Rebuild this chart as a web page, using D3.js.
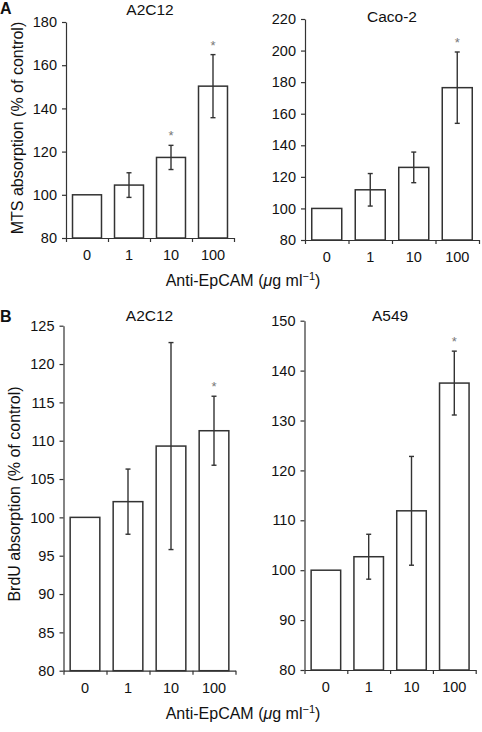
<!DOCTYPE html>
<html>
<head>
<meta charset="utf-8">
<script src="https://cdn.jsdelivr.net/npm/d3@7"></script>
<style>
  html, body { margin: 0; padding: 0; background: #fff; }
  svg { display: block; font-family: "Liberation Sans", Arial, Helvetica, sans-serif; }
</style>
</head>
<body>
<svg id="chart" width="482" height="732"></svg>
<script>
// ---- data ----
const doses = ["0", "1", "10", "100"];

const mtsA2C12 = [100, 104.5, 117.3, 150.3];
const mtsA2C12Err = [0, 5.7, 5.6, 14.6];
const mtsA2C12Sig = [false, false, true, true];
const mtsA2C12Ticks = [80, 100, 120, 140, 160, 180];

const mtsCaco2 = [100, 111.8, 126, 176.5];
const mtsCaco2Err = [0, 10.3, 9.7, 22.6];
const mtsCaco2Sig = [false, false, false, true];
const mtsCaco2Ticks = [80, 100, 120, 140, 160, 180, 200, 220];

const brduA2C12 = [100, 102.05, 109.3, 111.3];
const brduA2C12Err = [0, 4.25, 13.5, 4.5];
const brduA2C12Sig = [false, false, false, true];
const brduA2C12Ticks = [80, 85, 90, 95, 100, 105, 110, 115, 120, 125];

const brduA549 = [100, 102.7, 111.9, 137.5];
const brduA549Err = [0, 4.5, 10.9, 6.4];
const brduA549Sig = [false, false, false, true];
const brduA549Ticks = [80, 90, 100, 110, 120, 130, 140, 150];

const panelTitles = ["A2C12", "Caco-2", "A2C12", "A549"];
const yTitles = ["MTS absorption (% of control)", "BrdU absorption (% of control)"];

// ---- layout ----
const INK = "#333";
const panels = [
  { vals: mtsA2C12, err: mtsA2C12Err, sig: mtsA2C12Sig, ticks: mtsA2C12Ticks, title: panelTitles[0],
    x0: 66, x1: 234, yTop: 22, yBot: 238, titleY: 15 },
  { vals: mtsCaco2, err: mtsCaco2Err, sig: mtsCaco2Sig, ticks: mtsCaco2Ticks, title: panelTitles[1],
    x0: 305, x1: 479, yTop: 19, yBot: 240, titleY: 22 },
  { vals: brduA2C12, err: brduA2C12Err, sig: brduA2C12Sig, ticks: brduA2C12Ticks, title: panelTitles[2],
    x0: 63.5, x1: 235.5, yTop: 325.7, yBot: 670.7, titleY: 320.5 },
  { vals: brduA549, err: brduA549Err, sig: brduA549Sig, ticks: brduA549Ticks, title: panelTitles[3],
    x0: 304.5, x1: 475.7, yTop: 320.7, yBot: 670, titleY: 320.5 }
];

const svg = d3.select("#chart");

panels.forEach(p => {
  const g = svg.append("g");
  const y = d3.scaleLinear()
    .domain([p.ticks[0], p.ticks[p.ticks.length - 1]])
    .range([p.yBot, p.yTop]);
  const x = d3.scaleBand().domain(doses).range([p.x0, p.x1])
    .paddingInner(0.31).paddingOuter(0.155);
  const xb = d3.scaleLinear().domain([0, doses.length]).range([p.x0, p.x1]);

  // bars
  g.selectAll("rect.bar").data(p.vals).join("rect")
    .attr("class", "bar")
    .attr("x", (d, i) => x(doses[i]))
    .attr("width", x.bandwidth())
    .attr("y", d => y(d))
    .attr("height", d => y(p.ticks[0]) - y(d))
    .attr("fill", "#fff")
    .attr("stroke", INK)
    .attr("stroke-width", 1.5);

  // error bars
  const cx = i => x(doses[i]) + x.bandwidth() / 2;
  const eg = g.selectAll("g.err").data(p.vals).join("g").attr("class", "err")
    .attr("stroke", INK).attr("stroke-width", 1.4);
  eg.filter((d, i) => p.err[i] > 0).each(function (d, i0) {
    const i = p.vals.indexOf(d);
    const e = p.err[i];
    const s = d3.select(this);
    s.append("line").attr("x1", cx(i)).attr("x2", cx(i)).attr("y1", y(d + e)).attr("y2", y(d - e));
    s.append("line").attr("x1", cx(i) - 2.5).attr("x2", cx(i) + 2.5).attr("y1", y(d + e)).attr("y2", y(d + e));
    s.append("line").attr("x1", cx(i) - 2.5).attr("x2", cx(i) + 2.5).attr("y1", y(d - e)).attr("y2", y(d - e));
  });

  // significance asterisks
  g.selectAll("text.sig").data(p.vals).join("text")
    .attr("class", "sig")
    .filter((d, i) => p.sig[i])
    .attr("x", (d, i) => cx(p.vals.indexOf(d)))
    .attr("y", d => y(d + p.err[p.vals.indexOf(d)]) - 12 + 7)
    .attr("text-anchor", "middle")
    .attr("font-size", 13)
    .attr("fill", "#777")
    .text("*");

  // y axis
  const ya = g.append("g").attr("transform", `translate(${p.x0},0)`)
    .call(d3.axisLeft(y).tickValues(p.ticks).tickSize(4).tickSizeOuter(0).tickPadding(5).tickFormat(d3.format("d")));
  ya.select(".domain").attr("stroke", INK).attr("stroke-width", 1.2);
  ya.selectAll(".tick line").attr("stroke", INK).attr("stroke-width", 1.2);
  ya.selectAll("text").attr("font-size", 14.5).attr("fill", "#111").attr("font-family", null);

  // x axis: boundary ticks
  const xa = g.append("g").attr("transform", `translate(0,${p.yBot})`)
    .call(d3.axisBottom(xb).tickValues(d3.range(doses.length + 1)).tickSize(4).tickSizeOuter(0).tickFormat(""));
  xa.select(".domain").attr("stroke", INK).attr("stroke-width", 1.2);
  xa.selectAll(".tick line").attr("stroke", INK).attr("stroke-width", 1.2);

  // x axis: category labels
  const xl = g.append("g").attr("transform", `translate(0,${p.yBot})`)
    .call(d3.axisBottom(x).tickSize(0).tickPadding(12));
  xl.select(".domain").remove();
  xl.selectAll("text").attr("font-size", 14.5).attr("fill", "#111").attr("font-family", null);

  // panel title
  g.append("text")
    .attr("x", (p.x0 + p.x1) / 2)
    .attr("y", p.titleY)
    .attr("text-anchor", "middle")
    .attr("font-size", 15.5)
    .attr("fill", "#111")
    .text(p.title);
});

// panel letters
svg.append("text").attr("x", 0).attr("y", 13.5).attr("font-size", 16).attr("font-weight", "bold").attr("fill", "#111").text("A");
svg.append("text").attr("x", 0).attr("y", 321.5).attr("font-size", 16).attr("font-weight", "bold").attr("fill", "#111").text("B");

// y titles
[[23, 128, yTitles[0]], [19.5, 494, yTitles[1]]].forEach(([tx, ty, t]) => {
  svg.append("text")
    .attr("transform", `translate(${tx},${ty}) rotate(-90)`)
    .attr("text-anchor", "middle")
    .attr("font-size", 16)
    .attr("fill", "#111")
    .text(t);
});

// x titles
[286, 718.5].forEach(ty => {
  const t = svg.append("text")
    .attr("x", 243).attr("y", ty)
    .attr("text-anchor", "middle")
    .attr("font-size", 16)
    .attr("fill", "#111");
  t.append("tspan").text("Anti-EpCAM (");
  t.append("tspan").attr("font-style", "italic").text("\u03bc");
  t.append("tspan").text("g ml");
  t.append("tspan").attr("font-size", 11).attr("dy", -6).text("\u22121");
  t.append("tspan").attr("dy", 6).text(")");
});
</script>
</body>
</html>
